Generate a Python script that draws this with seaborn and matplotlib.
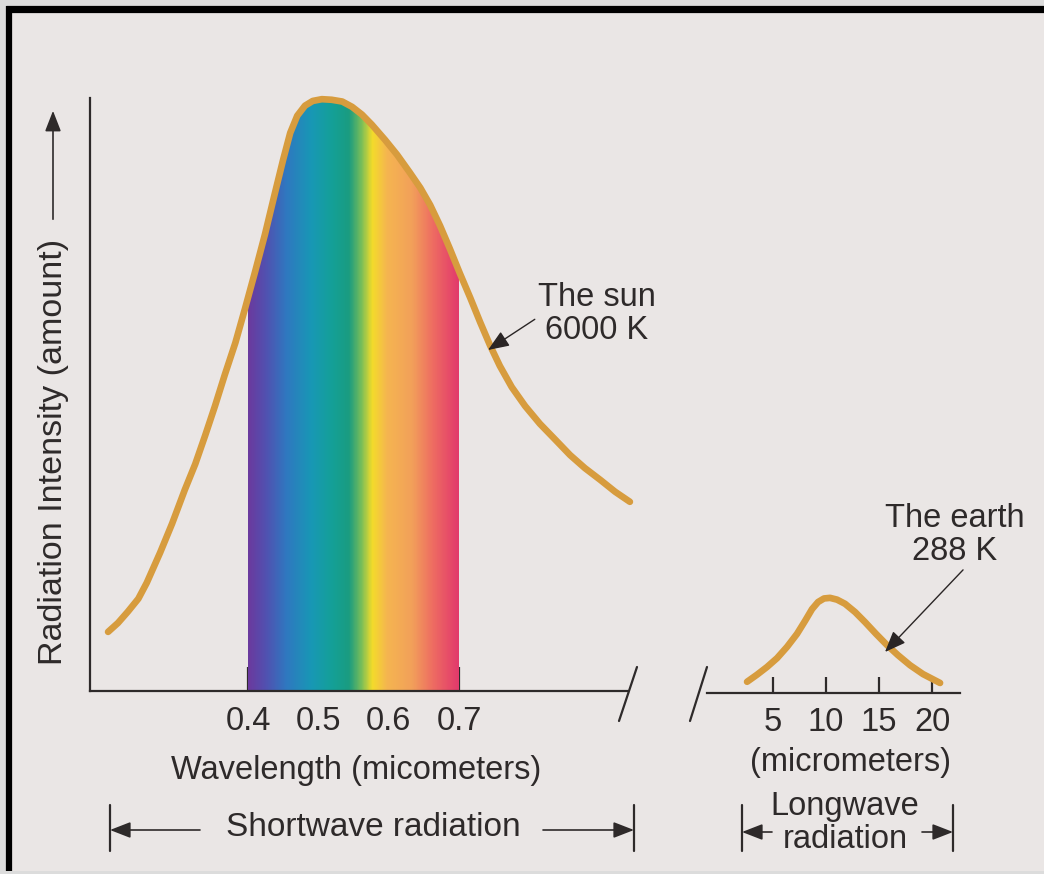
import numpy as np
import pandas as pd
import matplotlib
matplotlib.use('Agg')
import matplotlib.pyplot as plt
import seaborn as sns
from matplotlib.colors import LinearSegmentedColormap
from matplotlib.lines import Line2D
from matplotlib.patches import Rectangle, FancyArrowPatch

# Sun curve (6000 K), wavelength in micrometers, intensity in arbitrary units
sun_wavelength = [0.201, 0.215, 0.229, 0.244, 0.256, 0.275, 0.292, 0.310, 0.325,
                  0.339, 0.353, 0.367, 0.382, 0.396, 0.410, 0.424, 0.438, 0.450,
                  0.460, 0.470, 0.481, 0.492, 0.505, 0.519, 0.534, 0.548, 0.562,
                  0.576, 0.595, 0.612, 0.630, 0.645, 0.659, 0.673, 0.687, 0.701,
                  0.716, 0.730, 0.744, 0.758, 0.775, 0.794, 0.815, 0.837, 0.858,
                  0.879, 0.901, 0.922, 0.943]
sun_intensity = [10.0, 11.5, 13.4, 15.6, 18.3, 23.4, 28.3, 34.0, 38.4,
                 43.2, 48.2, 53.5, 58.9, 64.8, 70.9, 77.2, 84.1, 89.9,
                 94.4, 97.3, 99.0, 99.8, 100.1, 100.0, 99.7, 98.8, 97.5,
                 95.8, 93.2, 90.7, 87.7, 85.1, 82.2, 78.7, 74.8, 70.7,
                 66.5, 62.4, 58.5, 55.0, 51.4, 48.2, 45.2, 42.5, 39.9,
                 37.7, 35.7, 33.7, 32.0]

# Earth curve (288 K), wavelength in micrometers
earth_wavelength = [2.55, 3.49, 4.43, 5.38, 6.32, 7.26, 8.02, 8.68, 9.25, 9.81,
                    10.38, 11.04, 11.79, 12.74, 13.68, 14.72, 15.76, 16.79,
                    17.93, 19.15, 20.76]
earth_intensity = [1.9, 3.1, 4.4, 5.9, 7.8, 10.0, 12.2, 14.2, 15.4, 16.0,
                   16.1, 15.8, 15.1, 13.7, 12.0, 10.0, 8.1, 6.4,
                   4.7, 3.2, 1.7]

short_ticks = [0.4, 0.5, 0.6, 0.7]
short_labels = ['0.4', '0.5', '0.6', '0.7']
long_ticks = [5, 10, 15, 20]
long_labels = ['5', '10', '15', '20']

sun = pd.DataFrame({'wavelength': sun_wavelength, 'intensity': sun_intensity})
earth = pd.DataFrame({'wavelength': earth_wavelength, 'intensity': earth_intensity})

sns.set_theme(style="white")
plt.rcParams['font.family'] = ['Liberation Sans', 'DejaVu Sans']

W, H = 1044, 874
bg = '#eae6e5'
ink = '#2e2a2a'
curve_col = '#d79c3e'

fig = plt.figure(figsize=(W / 100, H / 100), dpi=100)
fig.patch.set_facecolor('#dcdcdc')


def fx(px):
    return px / W


def fy(py):
    return 1 - py / H


# paper and black frame
fig.add_artist(Rectangle((fx(12), 0.004), 1, fy(12) - 0.004, transform=fig.transFigure,
                         facecolor=bg, edgecolor='none', zorder=-10))
fig.add_artist(Line2D([fx(6), 1], [fy(8.5), fy(8.5)], transform=fig.transFigure,
                      color='black', lw=5.2, solid_capstyle='butt'))
fig.add_artist(Line2D([fx(9), fx(9)], [fy(6), 0.004], transform=fig.transFigure,
                      color='black', lw=4.5, solid_capstyle='butt'))

# ---- shortwave (sun) panel
ax1 = fig.add_axes([fx(90), fy(691), fx(628) - fx(90), (691 - 98) / H])
ax1.set_facecolor('none')
ax1.set_xlim(0.1753, 0.9403)
ax1.set_ylim(0, 100.3)

spectrum = LinearSegmentedColormap.from_list('spectrum', [
    (0.00, '#6b3a9e'), (0.08, '#5250b0'), (0.18, '#2f78c0'), (0.30, '#1898b5'),
    (0.40, '#14a097'), (0.48, '#1a9c80'), (0.54, '#7cbf58'), (0.59, '#f4dc2a'),
    (0.66, '#f5b550'), (0.78, '#f2a05a'), (0.88, '#ee6c62'), (1.00, '#e23a6c')])
grad = np.linspace(0, 1, 300).reshape(1, -1)
img = ax1.imshow(grad, cmap=spectrum, extent=(0.4, 0.7, 0, 100.3),
                 aspect='auto', interpolation='bicubic', zorder=1)
region = ax1.fill_between(sun['wavelength'], 0, sun['intensity'], color='none', lw=0)
img.set_clip_path(region.get_paths()[0], transform=ax1.transData)

sns.lineplot(data=sun, x='wavelength', y='intensity', ax=ax1, color=curve_col,
             lw=4.8, zorder=3, clip_on=False)

ax1.spines['top'].set_visible(False)
ax1.spines['right'].set_visible(False)
for s in ['left', 'bottom']:
    ax1.spines[s].set_color(ink)
    ax1.spines[s].set_linewidth(1.6)
    ax1.spines[s].set_zorder(4)
ax1.set_xticks(short_ticks)
ax1.set_xticklabels(short_labels)
ax1.set_yticks([])
ax1.tick_params(axis='x', direction='in', length=17, width=1.6, color=ink,
                labelsize=23.5, labelcolor=ink, pad=11, bottom=True)
ax1.set_xlabel('')
ax1.set_ylabel('')

# ---- longwave (earth) panel
ax2 = fig.add_axes([fx(707), fy(693), fx(960) - fx(707), (693 - 98) / H])
ax2.set_facecolor('none')
ax2.set_xlim(-1.23, 22.64)
ax2.set_ylim(0, 100.7)
sns.lineplot(data=earth, x='wavelength', y='intensity', ax=ax2, color=curve_col,
             lw=4.8, zorder=3, clip_on=False)
for s in ['top', 'right', 'left']:
    ax2.spines[s].set_visible(False)
ax2.spines['bottom'].set_color(ink)
ax2.spines['bottom'].set_linewidth(1.6)
ax2.set_xticks(long_ticks)
ax2.set_xticklabels(long_labels)
ax2.set_yticks([])
ax2.tick_params(axis='x', direction='in', length=11.5, width=1.6, color=ink,
                labelsize=23.5, labelcolor=ink, pad=10, bottom=True)
ax2.set_xlabel('')
ax2.set_ylabel('')

# axis break marks
for (x0, x1) in [(619, 637), (690, 707)]:
    fig.add_artist(Line2D([fx(x0), fx(x1)], [fy(721), fy(667)], transform=fig.transFigure,
                          color=ink, lw=1.6))

# texts
txt = dict(color=ink, transform=fig.transFigure)
fig.text(fx(54), fy(452), 'Radiation Intensity (amount)', rotation=90,
         ha='center', va='center', fontsize=24.5, **txt)
fig.add_artist(FancyArrowPatch(
    (fx(53), fy(222)), (fx(53), fy(108)), transform=fig.transFigure,
    arrowstyle='-|>,head_length=0.9,head_width=0.35', mutation_scale=14,
    color=ink, lw=1.2))

fig.text(fx(356), fy(770), 'Wavelength (micometers)', ha='center', va='center',
         fontsize=23.5, **txt)
fig.text(fx(850), fy(763), '(micrometers)', ha='center', va='center', fontsize=23.5, **txt)

arrow_kw = dict(arrowstyle='-|>,head_length=0.55,head_width=0.22',
                color='#2a2525', lw=1.0, shrinkA=0, shrinkB=0)
ax1.annotate('The sun\n6000 K', xy=(fx(488), fy(350)), xycoords='figure fraction',
             xytext=(fx(597), fy(314)), textcoords='figure fraction',
             ha='center', va='center', fontsize=23.5, color=ink, linespacing=1.05,
             arrowprops=dict(relpos=(0, 0.45), **arrow_kw))
ax2.annotate('The earth\n288 K', xy=(fx(885), fy(652)), xycoords='figure fraction',
             xytext=(fx(955), fy(535)), textcoords='figure fraction',
             ha='center', va='center', fontsize=23.5, color=ink, linespacing=1.05,
             arrowprops=dict(relpos=(0.58, 0.0), **arrow_kw))


# shortwave / longwave brackets
def bracket(xl, xr, ya, xtl, xtr):
    for xb in (xl, xr):
        fig.add_artist(Line2D([fx(xb), fx(xb)], [fy(805), fy(851)],
                              transform=fig.transFigure, color=ink, lw=1.6))
    for (a, b) in [(xtl, xl), (xtr, xr)]:
        fig.add_artist(FancyArrowPatch(
            (fx(a), fy(ya)), (fx(b), fy(ya)), transform=fig.transFigure,
            arrowstyle='-|>,head_length=0.9,head_width=0.35', mutation_scale=14,
            color=ink, lw=1.2, shrinkA=0, shrinkB=0))


bracket(110, 634, 830, 200, 543)
fig.text(fx(373), fy(828), 'Shortwave radiation', ha='center', va='center',
         fontsize=24, **txt)
bracket(742, 953, 832, 772, 922)
fig.text(fx(845), fy(806), 'Longwave', ha='center', va='center', fontsize=23.5, **txt)
fig.text(fx(845), fy(840), 'radiation', ha='center', va='center', fontsize=23.5, **txt)

fig.savefig('out.png', dpi=100, facecolor=fig.get_facecolor())
